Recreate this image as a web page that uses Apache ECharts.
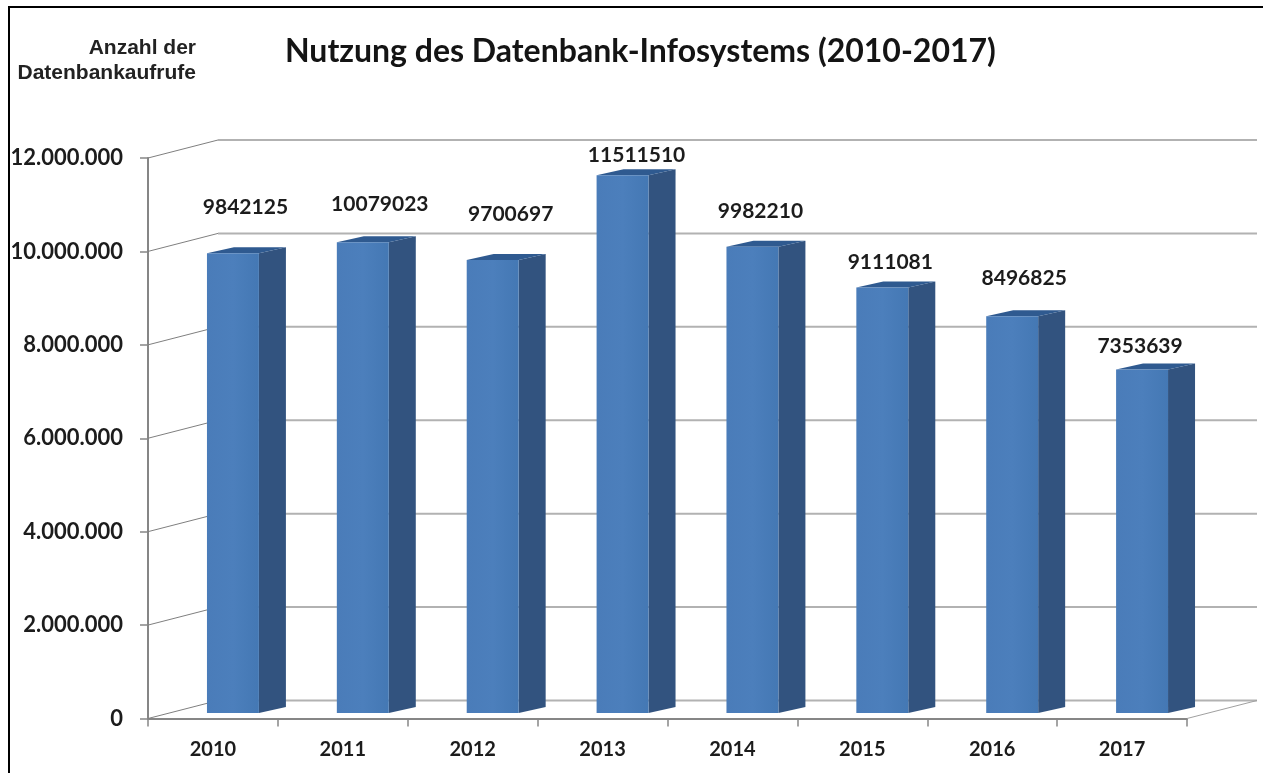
<!DOCTYPE html>
<html>
<head>
<meta charset="utf-8">
<style>html,body{margin:0;padding:0;background:#fff}#c{width:1263px;height:773px}</style>
<script src="https://cdn.jsdelivr.net/npm/echarts@6/dist/echarts.min.js"></script>
</head>
<body>
<div id="c"></div>
<script>
const years = ['2010','2011','2012','2013','2014','2015','2016','2017'];
const calls = [9842125,10079023,9700697,11511510,9982210,9111081,8496825,7353639];
const wallTicks = [0,2000000,4000000,6000000,8000000,10000000,12000000];
// hand-placed label shifts (dx, dy) relative to the bar's top-front centre
const labelShiftX = [12.5,17,18,14,8,8,12,-2];
const labelShiftY = [-46,-38,-46,-20,-36,-25,-38,-23];

const titleText = 'Nutzung des Datenbank-Infosystems (2010-2017)';
const unitLine1 = 'Anzahl der';
const unitLine2 = 'Datenbankaufrufe';

const WALL_DX = 70, WALL_DY = 18;
const BAR_DX = 20, BAR_LIFT = 5.5, SIDE_DX = 27, SIDE_DY = 6;
const fontNum = 'Lato, "Open Sans", sans-serif';

function dotted(v){ return String(v).replace(/\B(?=(\d{3})+(?!\d))/g,'.'); }

const chart = echarts.init(document.getElementById('c'), null, {renderer:'canvas'});

function renderWall(params, api){
  const cs = params.coordSys;
  const y = api.coord([0, api.value(0)])[1];
  const x0 = cs.x, x1 = cs.x + WALL_DX, xr = cs.x + cs.width + WALL_DX;
  const kids = [
    {type:'line', shape:{x1:x1,y1:y-WALL_DY,x2:xr,y2:y-WALL_DY}, style:{stroke:'#b2b2b2',lineWidth:2}},
    {type:'line', shape:{x1:x0,y1:y,x2:x1,y2:y-WALL_DY}, style:{stroke:'#7f7f7f',lineWidth:1}}
  ];
  if (api.value(0) === 0) {
    kids.push({type:'line', shape:{x1:cs.x+cs.width,y1:y,x2:xr,y2:y-WALL_DY}, style:{stroke:'#a0a0a0',lineWidth:1}});
  }
  return {type:'group', children:kids};
}

function renderBar(params, api){
  const i = api.value(0), v = api.value(1);
  const top = api.coord([i, v]);
  const base = api.coord([i, 0]);
  const w = api.size([1,0])[0] * 0.4;
  const xl = top[0] + BAR_DX - w/2, xr = xl + w;
  const yt = top[1] - BAR_LIFT, yb = base[1] - BAR_LIFT;
  return {type:'group', children:[
    {type:'polygon', shape:{points:[[xr,yt],[xr+SIDE_DX,yt-SIDE_DY],[xr+SIDE_DX,yb-SIDE_DY],[xr,yb]]},
      style:{fill:'#32537f'}},
    {type:'polygon', shape:{points:[[xl,yt],[xr,yt],[xr+SIDE_DX,yt-SIDE_DY],[xl+SIDE_DX,yt-SIDE_DY]]},
      style:{fill:'#2f5a90'}},
    {type:'rect', shape:{x:xl,y:yt,width:w,height:yb-yt},
      style:{fill:new echarts.graphic.LinearGradient(0,0,1,0,[
        {offset:0,color:'#4a7cb9'},{offset:0.5,color:'#4c7fbc'},{offset:1,color:'#4478b4'}])}},
    {type:'text', x:top[0]+BAR_DX+labelShiftX[i], y:yt+labelShiftY[i],
      style:{text:String(v), fill:'#1c1c1c', font:'bold 21px '+fontNum, align:'center', verticalAlign:'middle'}}
  ]};
}

chart.setOption({
  animation:false,
  backgroundColor:'#fff',
  title:{text:titleText, left:280, top:31,
    textStyle:{fontFamily:fontNum, fontWeight:'bold', fontSize:32, color:'#141414'}},
  graphic:[
    {type:'rect', shape:{x:8,y:6,width:1255,height:2}, style:{fill:'#000'}},
    {type:'rect', shape:{x:8,y:6,width:2,height:767}, style:{fill:'#000'}},
    {type:'text', x:196, y:48, style:{text:unitLine1, font:'bold 21px "Liberation Sans"', fill:'#222', align:'right', verticalAlign:'middle'}},
    {type:'text', x:196, y:73, style:{text:unitLine2, font:'bold 21px "Liberation Sans"', fill:'#222', align:'right', verticalAlign:'middle'}}
  ],
  grid:{left:148, top:158, width:1039, height:560.5, containLabel:false},
  xAxis:{type:'category', data:years, boundaryGap:true,
    axisLine:{show:true,lineStyle:{color:'#868686',width:2}},
    axisTick:{show:true,alignWithLabel:false,length:8,lineStyle:{color:'#868686',width:1.5}},
    axisLabel:{margin:21,fontFamily:fontNum,fontWeight:'bold',fontSize:20,color:'#1c1c1c'},
    splitLine:{show:false}},
  yAxis:{type:'value', min:0, max:12000000, interval:2000000,
    axisLine:{show:true,lineStyle:{color:'#868686',width:2}},
    axisTick:{show:true,length:8,lineStyle:{color:'#868686',width:1.5}},
    axisLabel:{margin:25,fontFamily:fontNum,fontWeight:'bold',fontSize:22,color:'#1c1c1c',formatter:dotted},
    splitLine:{show:false}},
  series:[
    {type:'custom', name:'wall', z:1, silent:true, clip:false, renderItem:renderWall,
      encode:{y:0}, data:wallTicks.map(v=>[v])},
    {type:'custom', name:'Datenbankaufrufe', z:3, clip:false, renderItem:renderBar,
      encode:{x:0,y:1}, data:calls.map((v,i)=>[i,v])}
  ]
});
</script>
</body>
</html>
